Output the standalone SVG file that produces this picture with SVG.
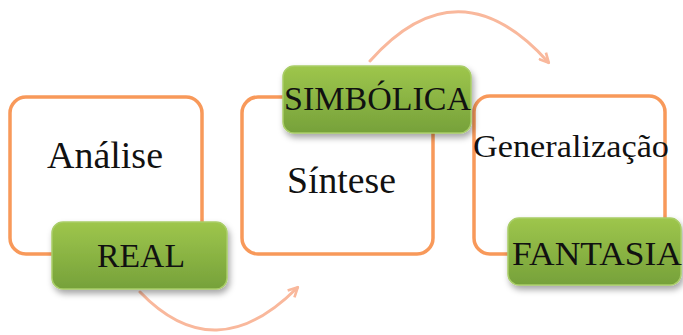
<svg xmlns="http://www.w3.org/2000/svg" width="683" height="335" viewBox="0 0 683 335">
  <style>
    .frame { fill: #ffffff; stroke: #F8995A; stroke-width: 3.5; }
    .tag { fill: url(#greenGrad); stroke: #A9CD68; stroke-width: 1.5; filter: url(#shadow); }
    .label { font-family: "Times New Roman", Times, "Liberation Serif", Tinos, "Noto Serif", "DejaVu Serif", FreeSerif, serif; fill: #111111; text-anchor: middle; }
    .flow { fill: none; stroke: #F9B89C; stroke-width: 3; stroke-linecap: round; marker-end: url(#head); filter: url(#soft); }
  </style>
  <defs>
    <linearGradient id="greenGrad" x1="0" y1="0" x2="0" y2="1">
      <stop offset="0" stop-color="#9EC64C"/>
      <stop offset="1" stop-color="#76A13A"/>
    </linearGradient>
    <filter id="shadow" x="-10%" y="-20%" width="125%" height="160%">
      <feDropShadow dx="2" dy="4" stdDeviation="3" flood-color="#000" flood-opacity="0.35"/>
    </filter>
    <filter id="soft" x="-10%" y="-20%" width="120%" height="140%">
      <feGaussianBlur stdDeviation="0.5"/>
    </filter>
    <marker id="head" viewBox="0 0 10 10" refX="8" refY="5" markerWidth="4" markerHeight="4" orient="auto" markerUnits="strokeWidth">
      <path d="M1,1 L9,5 L1,9" fill="none" stroke="#F9B89C" stroke-width="2.2" stroke-linejoin="round"/>
    </marker>
  </defs>

  <!-- curved flow arrows -->
  <g id="connectors">
    <path class="flow" d="M140,292 Q215,370 297,288"/>
    <path class="flow" d="M370,61 Q458,-38 548,62"/>
  </g>

  <!-- stage frames -->
  <g id="analise">
    <rect class="frame" x="10" y="97" width="192" height="157" rx="16"/>
    <text class="label" x="105" y="168" font-size="37" textLength="116" lengthAdjust="spacingAndGlyphs">Análise</text>
  </g>
  <g id="sintese">
    <rect class="frame" x="242" y="97" width="191" height="157" rx="16"/>
    <text class="label" x="341.5" y="193" font-size="37" textLength="109" lengthAdjust="spacingAndGlyphs">Síntese</text>
  </g>
  <g id="generalizacao">
    <rect class="frame" x="474" y="96" width="191" height="158" rx="16"/>
    <text class="label" x="571" y="157" font-size="31" textLength="196" lengthAdjust="spacingAndGlyphs">Generalização</text>
  </g>

  <!-- green tags -->
  <g id="real">
    <rect class="tag" x="52" y="222" width="175" height="67" rx="11"/>
    <text class="label" x="141" y="267" font-size="33" textLength="88" lengthAdjust="spacingAndGlyphs">REAL</text>
  </g>
  <g id="simbolica">
    <rect class="tag" x="283" y="66" width="188" height="67" rx="11"/>
    <text class="label" x="377.5" y="110" font-size="33" textLength="187" lengthAdjust="spacingAndGlyphs">SIMBÓLICA</text>
  </g>
  <g id="fantasia">
    <rect class="tag" x="508" y="218" width="173" height="67" rx="11"/>
    <text class="label" x="597" y="265" font-size="33" textLength="170" lengthAdjust="spacingAndGlyphs">FANTASIA</text>
  </g>
</svg>
